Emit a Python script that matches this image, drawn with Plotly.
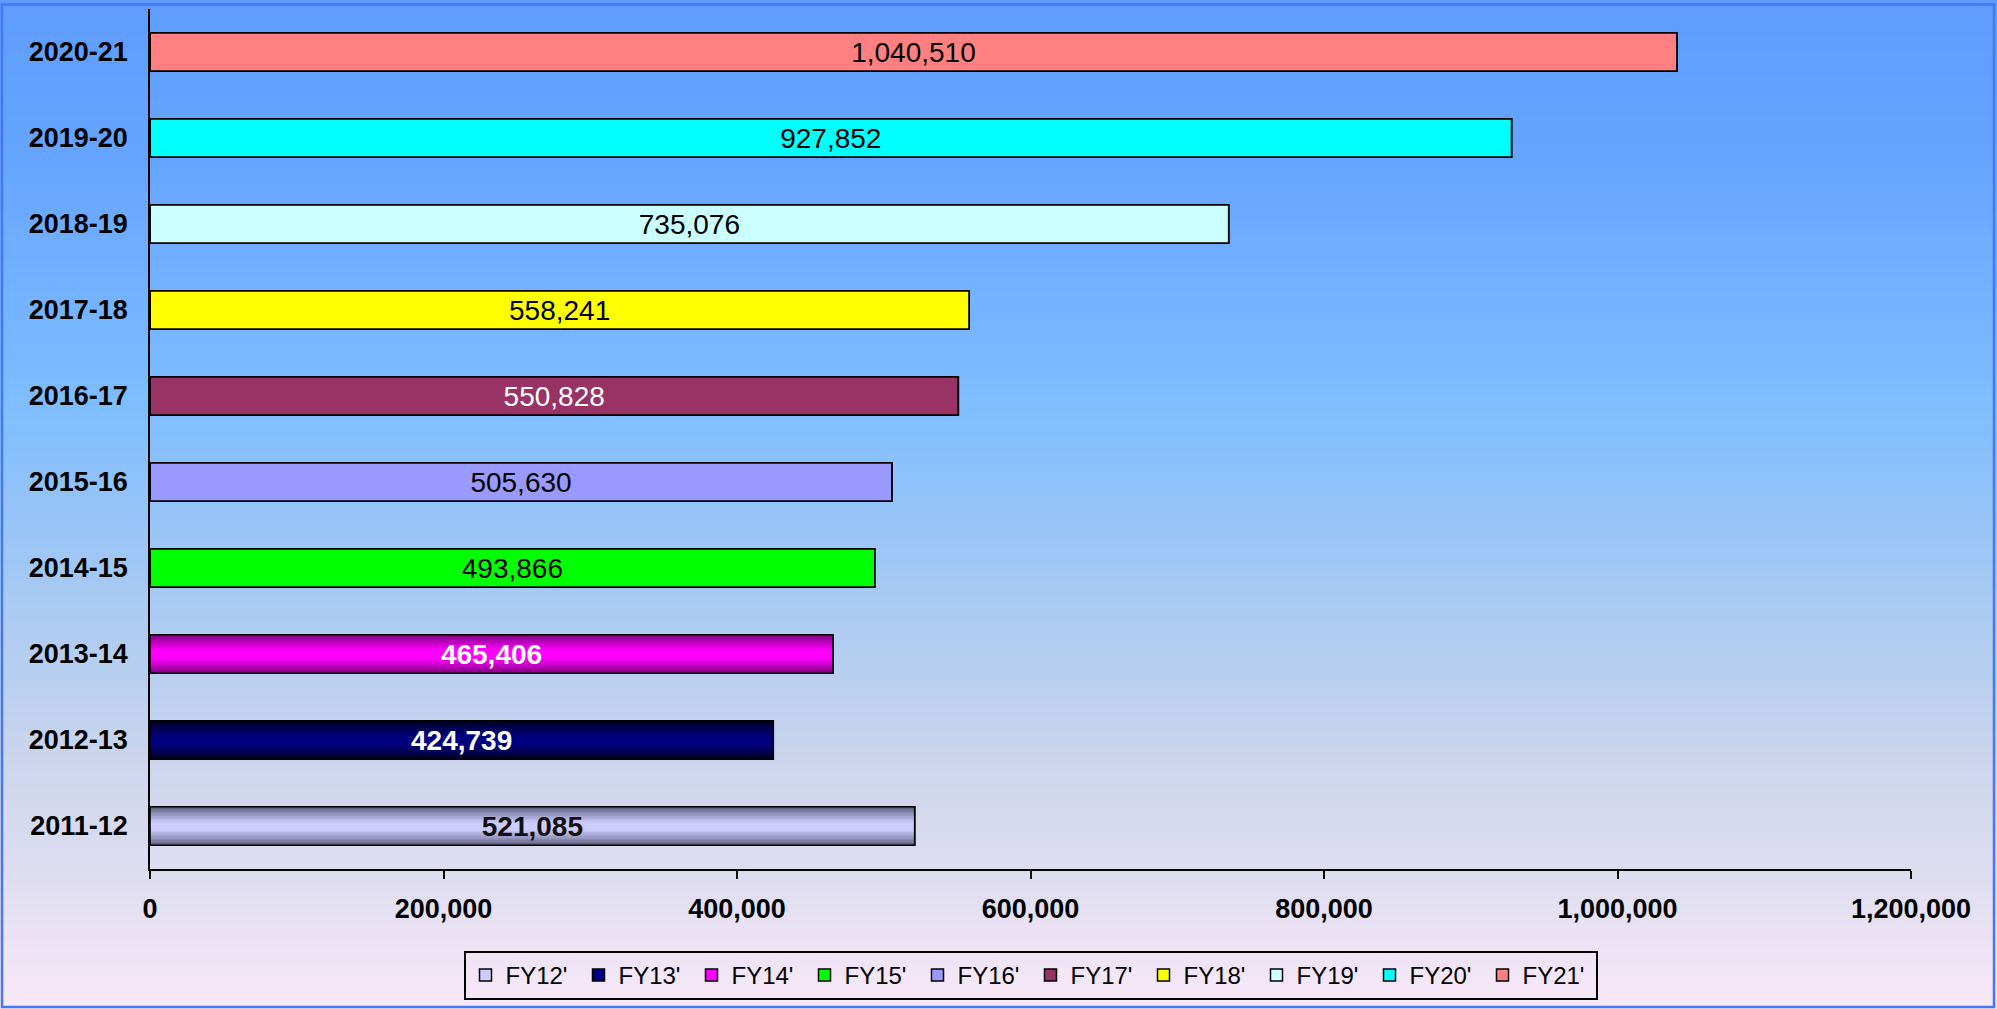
import plotly.graph_objects as go

# ---------------- data ----------------
categories = ["2011-12", "2012-13", "2013-14", "2014-15", "2015-16",
              "2016-17", "2017-18", "2018-19", "2019-20", "2020-21"]
series_names = ["FY12'", "FY13'", "FY14'", "FY15'", "FY16'",
                "FY17'", "FY18'", "FY19'", "FY20'", "FY21'"]
values = [521085, 424739, 465406, 493866, 505630,
          550828, 558241, 735076, 927852, 1040510]
x_tick_vals = [0, 200000, 400000, 600000, 800000, 1000000, 1200000]

# ---------------- styles ----------------
bar_colors = ["#CCCCFF", "#000080", "#FF00FF", "#00FF00", "#9999FF",
              "#993366", "#FFFF00", "#CCFFFF", "#00FFFF", "#FF8080"]
edge_colors = [(78, 78, 108), (0, 0, 20), (110, 0, 110), None, None,
               None, None, None, None, None]
label_colors = ["#111111", "#FFFFFF", "#FFFFFF", "#000000", "#000000",
                "#FFFFFF", "#000000", "#000000", "#000000", "#000000"]
label_bold = [True, True, True, False, False, False, False, False, False, False]

W, H = 1997, 1009
ML, MR, MT, MB = 150, 86, 9, 140
PW, PH = W - ML - MR, H - MT - MB
BAR_W = 0.448
FONT = "Liberation Sans, Arial, sans-serif"


def hex2rgb(h):
    h = h.lstrip("#")
    return tuple(int(h[i:i + 2], 16) for i in (0, 2, 4))


def mix(a, b, t):
    return tuple(round(a[j] + (b[j] - a[j]) * t) for j in range(3))


fig = go.Figure()

for i, cat in enumerate(categories):
    # main (legend) bar
    fig.add_trace(go.Bar(
        y=[cat], x=[values[i]], orientation="h", name=series_names[i],
        width=BAR_W,
        marker=dict(color=bar_colors[i], line=dict(color="black", width=1.5)),
        showlegend=True, legendgroup=series_names[i],
    ))
    # gradient shading for the first series
    if edge_colors[i] is not None:
        center = hex2rgb(bar_colors[i])
        n = 14
        half = BAR_W / 2
        step = half / n
        for k in range(n):
            t = (k + 0.5) / n
            col = mix(edge_colors[i], center, min(1.0, t ** 0.8 * 1.15))
            c = "rgb(%d,%d,%d)" % col
            for off in (half - (k + 1) * step, -half + k * step):
                fig.add_trace(go.Bar(
                    y=[cat], x=[values[i]], orientation="h",
                    width=step * 1.05, offset=off,
                    marker=dict(color=c, line=dict(width=0)),
                    showlegend=False, legendgroup=series_names[i],
                    hoverinfo="skip",
                ))
    # outline + value label on top
    fig.add_trace(go.Bar(
        y=[cat], x=[values[i]], orientation="h", width=BAR_W,
        marker=dict(color="rgba(0,0,0,0)", line=dict(color="black", width=1.6)),
        text=[f"{values[i]:,}"], textposition="inside",
        insidetextanchor="middle", constraintext="none",
        textfont=dict(family=FONT, size=28, color=label_colors[i],
                      weight="bold" if label_bold[i] else "normal"),
        showlegend=False, legendgroup=series_names[i], name=series_names[i],
    ))

# ---------------- background gradient (whole figure) ----------------
stops = [(0.00, (94, 157, 255)), (0.15, (101, 164, 255)), (0.40, (126, 189, 255)),
         (0.58, (165, 201, 243)), (0.75, (203, 213, 236)), (0.90, (228, 224, 242)),
         (1.00, (249, 232, 248))]


def grad(f):
    for (f0, c0), (f1, c1) in zip(stops[:-1], stops[1:]):
        if f <= f1:
            return mix(c0, c1, (f - f0) / (f1 - f0))
    return stops[-1][1]


def px2paper_x(px):
    return (px - ML) / PW


def px2paper_y(py):
    return (H - MB - py) / PH


shapes = []
N = 120
for s in range(N):
    py0 = H * s / N
    py1 = H * (s + 1) / N + 1
    col = grad((s + 0.5) / N)
    shapes.append(dict(
        type="rect", xref="paper", yref="paper", layer="below",
        x0=px2paper_x(0), x1=px2paper_x(W),
        y0=px2paper_y(py1), y1=px2paper_y(py0),
        fillcolor="rgb(%d,%d,%d)" % col, line=dict(width=0),
    ))
# outer blue frame
shapes.append(dict(
    type="rect", xref="paper", yref="paper", layer="above",
    x0=px2paper_x(2), x1=px2paper_x(1994),
    y0=px2paper_y(1007), y1=px2paper_y(4.5),
    fillcolor="rgba(0,0,0,0)", line=dict(color="#4677F5", width=2.5),
))

fig.update_layout(
    width=W, height=H,
    margin=dict(l=ML, r=MR, t=MT, b=MB, pad=0),
    barmode="overlay",
    paper_bgcolor="rgb(249,232,248)",
    plot_bgcolor="rgba(0,0,0,0)",
    font=dict(family=FONT, color="black"),
    shapes=shapes,
    showlegend=True,
    legend=dict(
        orientation="h", x=0.5, xanchor="center",
        y=px2paper_y(951), yanchor="top",
        bgcolor="rgba(0,0,0,0)", bordercolor="black", borderwidth=2,
        font=dict(family=FONT, size=24, color="black"),
        traceorder="normal", entrywidth=68, itemwidth=30,
    ),
    xaxis=dict(
        range=[0, 1200000], tickvals=x_tick_vals, tickformat=",d",
        showgrid=False, zeroline=False,
        showline=True, linecolor="black", linewidth=1.5,
        ticks="outside", ticklen=8, tickwidth=1.5, tickcolor="black",
        tickfont=dict(family=FONT, size=27, color="black", weight="bold"),
        ticklabelstandoff=7,
    ),
    yaxis=dict(
        type="category", categoryorder="array", categoryarray=categories,
        range=[-0.5, len(categories) - 0.5],
        showgrid=False, zeroline=False,
        showline=True, linecolor="black", linewidth=1.5,
        ticks="", ticklabelstandoff=15,
        tickfont=dict(family=FONT, size=27, color="black", weight="bold"),
    ),
)

fig.write_html("out.html",
               config={"displayModeBar": False},
               post_script="document.body.style.margin='0px';")
